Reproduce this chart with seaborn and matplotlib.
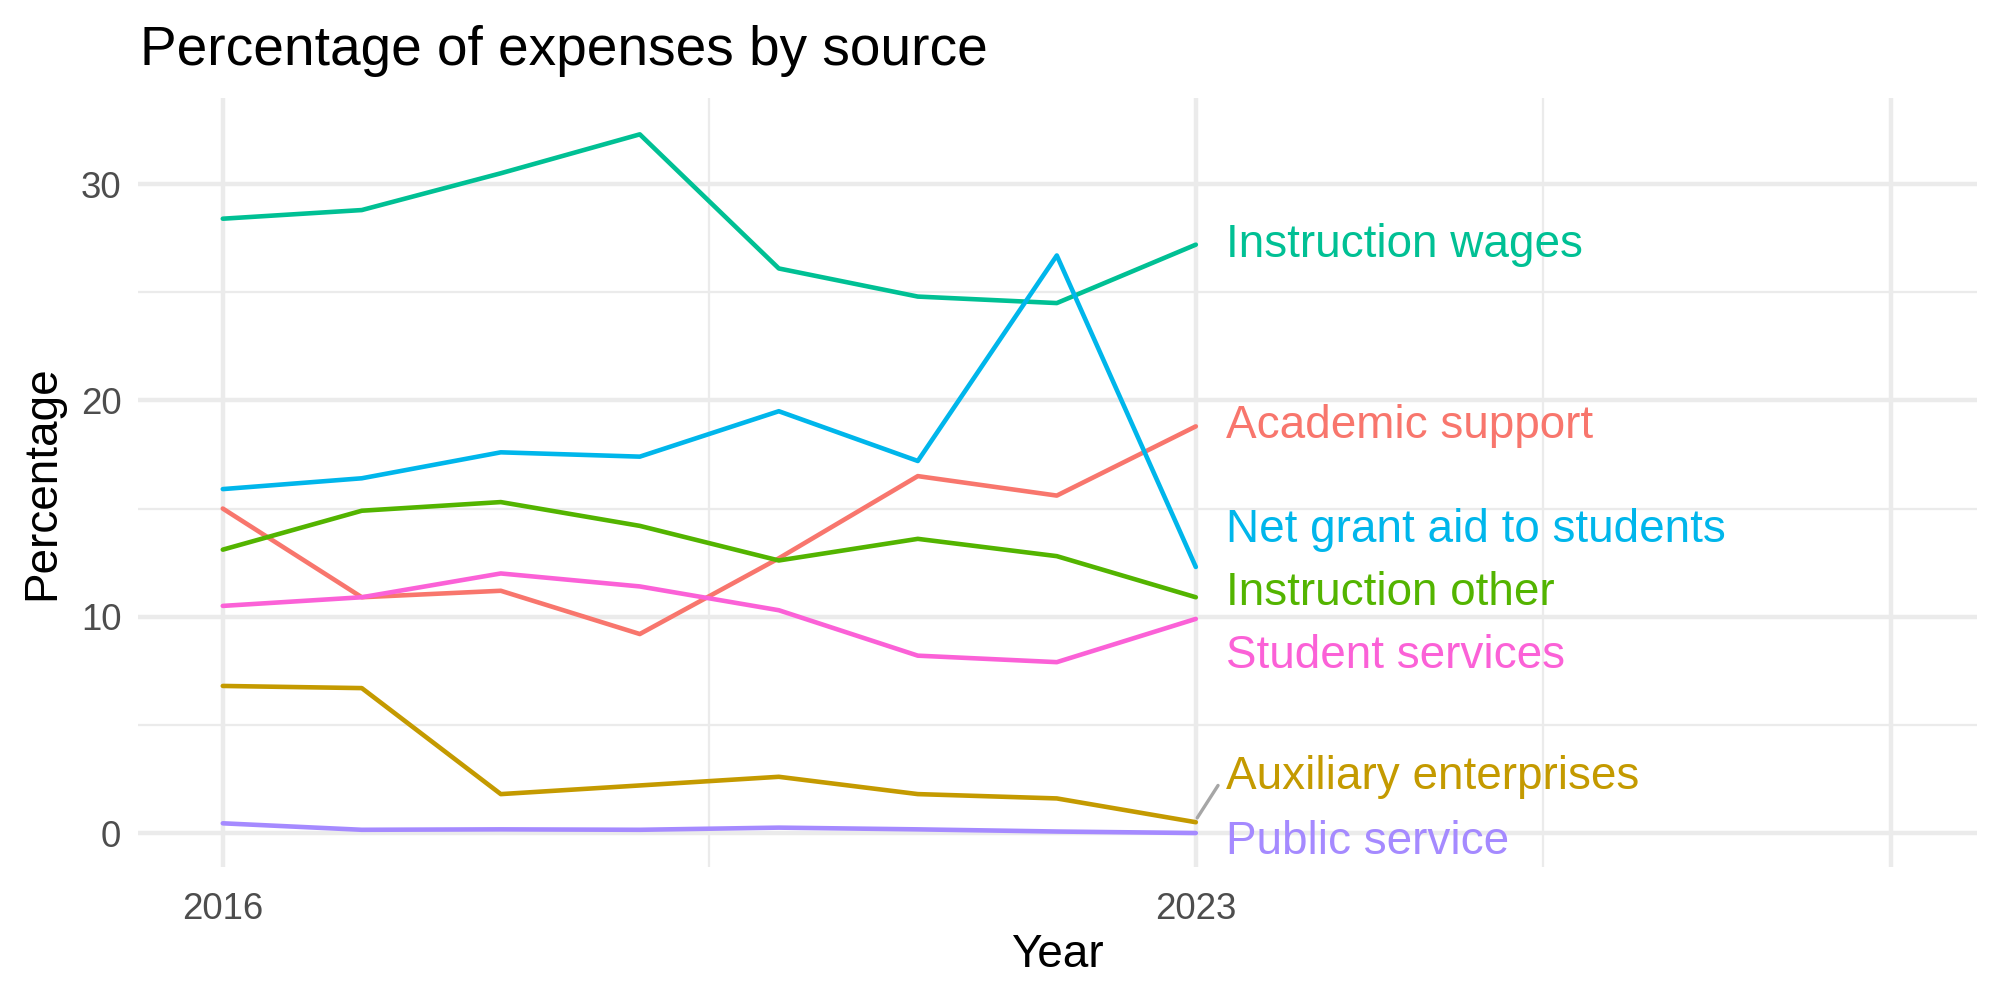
import numpy as np
import pandas as pd
import matplotlib.pyplot as plt
import seaborn as sns

years = [2016, 2017, 2018, 2019, 2020, 2021, 2022, 2023]

academic_support = [15.0, 10.9, 11.2, 9.2, 12.7, 16.5, 15.6, 18.8]
auxiliary_enterprises = [6.8, 6.7, 1.8, 2.2, 2.6, 1.8, 1.6, 0.5]
instruction_other = [13.1, 14.9, 15.3, 14.2, 12.6, 13.6, 12.8, 10.9]
instruction_wages = [28.4, 28.8, 30.5, 32.3, 26.1, 24.8, 24.5, 27.2]
net_grant_aid = [15.9, 16.4, 17.6, 17.4, 19.5, 17.2, 26.7, 12.3]
public_service = [0.45, 0.15, 0.17, 0.15, 0.25, 0.17, 0.07, 0.0]
student_services = [10.5, 10.9, 12.0, 11.4, 10.3, 8.2, 7.9, 9.9]

sources = ['Academic support', 'Auxiliary enterprises', 'Instruction other',
           'Instruction wages', 'Net grant aid to students', 'Public service',
           'Student services']
series = [academic_support, auxiliary_enterprises, instruction_other,
          instruction_wages, net_grant_aid, public_service, student_services]

# ggplot hue palette for 7 groups
colors = ['#F8766D', '#C49A00', '#53B400', '#00C094', '#00B6EB', '#A58AFF',
          '#FB61D7']

# where the repelled labels ended up (y, in data units)
label_y = [18.8, 2.6, 11.1, 27.2, 14.0, -0.4, 8.2]

df = pd.DataFrame({
    'Year': np.tile(years, len(sources)),
    'Percentage': np.concatenate(series),
    'source': np.repeat(sources, len(years)),
})

sns.set_theme(style='white')
plt.rcParams['font.family'] = ['Liberation Sans', 'DejaVu Sans']

fig, ax = plt.subplots(figsize=(20 / 3, 10 / 3), dpi=300)
fig.subplots_adjust(left=0.069, right=0.9885, top=0.902, bottom=0.133)

sns.lineplot(data=df, x='Year', y='Percentage', hue='source',
             palette=dict(zip(sources, colors)), linewidth=1.1,
             legend=False, ax=ax, zorder=3)

# labels at the line ends
last = years[-1]
for name, vals, col, ly in zip(sources, series, colors, label_y):
    ax.text(last + 0.22, ly, name, color=col, fontsize=11,
            va='center', ha='left', zorder=4)
    if abs(ly - vals[-1]) > 2:
        ax.plot([last + 0.01, last + 0.16], [vals[-1] + 0.2, ly - 0.4],
                color='#A6A6A6', lw=0.8, zorder=2)

ax.set_xlim(2015.39, 2028.62)
ax.set_ylim(-1.57, 33.98)
ax.set_xticks([2016, 2023, 2028])
ax.set_xticklabels(['2016', '2023', ''])
ax.set_xticks([2019.5, 2025.5], minor=True)
ax.set_yticks([0, 10, 20, 30])
ax.set_yticks([5, 15, 25], minor=True)

ax.grid(which='major', color='#EBEBEB', lw=1.07)
ax.grid(which='minor', color='#EBEBEB', lw=0.55)
ax.set_axisbelow(True)
for s in ax.spines.values():
    s.set_visible(False)
ax.tick_params(which='both', length=0, labelsize=8.8, labelcolor='#4D4D4D')
ax.tick_params(axis='x', pad=6)
ax.tick_params(axis='y', pad=4)

ax.set_xlabel('Year', fontsize=11, color='black', labelpad=1.5)
ax.set_ylabel('Percentage', fontsize=11, color='black', labelpad=4)
ax.set_title('Percentage of expenses by source', fontsize=13.2, loc='left',
             x=0.001, pad=8, color='black')

plt.savefig('out.png', dpi=300)
